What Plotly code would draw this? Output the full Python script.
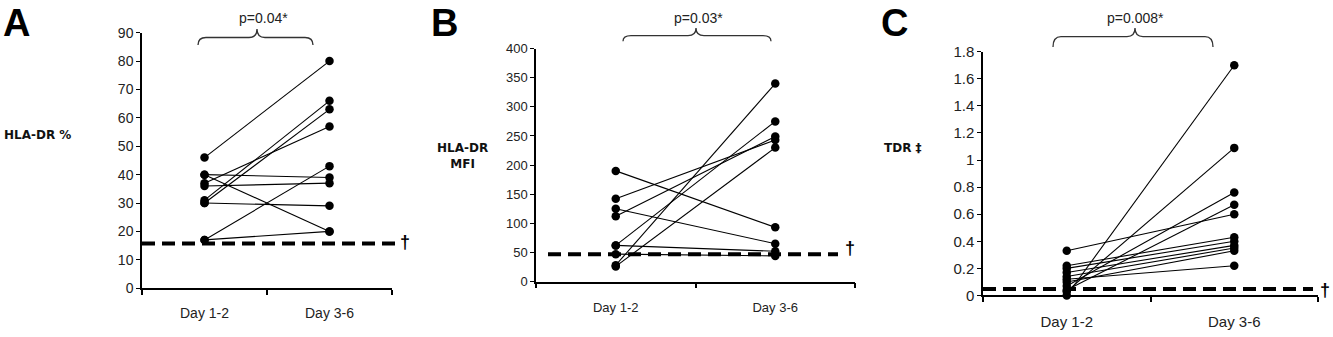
import plotly.graph_objects as go

W, H = 1333, 337

# ---------------- data ----------------
categories = ["Day 1-2", "Day 3-6"]

a_day12 = [46, 40, 40, 37, 36, 31, 30, 30, 17, 17]
a_day36 = [80, 39, 20, 57, 37, 66, 63, 29, 43, 20]
a_threshold = 15.7
a_ticks = [0, 10, 20, 30, 40, 50, 60, 70, 80, 90]
a_ticktext = ["0", "10", "20", "30", "40", "50", "60", "70", "80", "90"]

b_day12 = [190, 142, 125, 112, 62, 62, 47, 28, 26]
b_day36 = [93, 243, 65, 249, 275, 52, 44, 340, 230]
b_threshold = 47
b_ticks = [0, 50, 100, 150, 200, 250, 300, 350, 400]
b_ticktext = ["0", "50", "100", "150", "200", "250", "300", "350", "400"]

c_day12 = [0.33, 0.00, 0.03, 0.07, 0.04, 0.22, 0.20, 0.17, 0.14, 0.10, 0.12]
c_day36 = [0.60, 1.70, 1.09, 0.76, 0.67, 0.43, 0.40, 0.37, 0.35, 0.33, 0.22]
c_threshold = 0.047
c_ticks = [0, 0.2, 0.4, 0.6, 0.8, 1.0, 1.2, 1.4, 1.6, 1.8]
c_ticktext = ["0", "0.2", "0.4", "0.6", "0.8", "1", "1.2", "1.4", "1.6", "1.8"]

panel_letters = ["A", "B", "C"]
y_titles = ["HLA-DR %", "HLA-DR<br>MFI", "TDR \u2021"]
p_texts = ["p=0.04*", "p=0.03*", "p=0.008*"]

# ---------------- layout geometry (pixels) ----------------
panels = [
    dict(d12=a_day12, d36=a_day36, thr=a_threshold, ticks=a_ticks, tt=a_ticktext,
         x0=142, x1=392, ybot=294, ytop=25, dash=(142, 398), dag=(405, 245),
         fs=14, xstand=11, ytitle=(37, 133), brace=(198, 257, 313, 38, 30, 21), ptext=(263, 9),
         letter=(1, -9)),
    dict(d12=b_day12, d36=b_day36, thr=b_threshold, ticks=b_ticks, tt=b_ticktext,
         x0=536, x1=855, ybot=287, ytop=41.7, dash=(548, 838), dag=(850, 252),
         fs=13, xstand=13, ytitle=(462, 155), brace=(623, 696, 771, 34, 28, 20), ptext=(698, 9),
         letter=(429, -9)),
    dict(d12=c_day12, d36=c_day36, thr=c_threshold, ticks=c_ticks, tt=c_ticktext,
         x0=983, x1=1318, ybot=301.7, ytop=45, dash=(983, 1313), dag=(1325, 296),
         fs=15, xstand=12, ytitle=(903, 146), brace=(1053, 1135, 1213, 40, 29, 20), ptext=(1135, 9),
         letter=(879, -9)),
]


def px(xp):
    return xp / W


def py(yp):
    return 1 - yp / H


fig = go.Figure()
layout = dict(
    width=W, height=H, margin=dict(l=0, r=0, t=0, b=0),
    paper_bgcolor="white", plot_bgcolor="white", showlegend=False,
    font=dict(family="Arial, Liberation Sans, sans-serif", size=13, color="#222"),
)
shapes = []
annotations = []

for i, p in enumerate(panels):
    sfx = "" if i == 0 else str(i + 1)
    xa, ya = "x" + sfx, "y" + sfx
    ymax = p["ticks"][-1]
    for v1, v2 in zip(p["d12"], p["d36"]):
        fig.add_trace(go.Scatter(
            x=[0.5, 1.5], y=[v1, v2], mode="lines+markers",
            line=dict(color="black", width=1.1),
            marker=dict(color="black", size=8.5),
            cliponaxis=False, xaxis=xa, yaxis=ya, hoverinfo="skip"))
    layout["xaxis" + sfx] = dict(
        domain=[px(p["x0"]), px(p["x1"])], range=[0, 2], anchor=ya,
        showline=True, linecolor="black", linewidth=1.5, showgrid=False, zeroline=False,
        tickvals=[0.5, 1.5], ticktext=categories, ticks="", ticklabelstandoff=p["xstand"],
        tickfont=dict(size=p["fs"], color="#222"),
        minor=dict(tickvals=[0, 1, 2], ticks="outside", ticklen=5, tickcolor="black", tickwidth=1.5),
        fixedrange=True)
    layout["yaxis" + sfx] = dict(
        domain=[py(p["ybot"]), py(p["ytop"])], range=[0, ymax], anchor=xa,
        showline=True, linecolor="black", linewidth=1.5, showgrid=False, zeroline=False,
        tickvals=p["ticks"], ticktext=p["tt"], ticks="outside", ticklen=4,
        tickcolor="black", tickwidth=1.2, tickfont=dict(size=p["fs"], color="#222"),
        fixedrange=True)

    # threshold dashed line, mapped through the axis scale
    yb, yt = py(p["ybot"]), py(p["ytop"])
    thr_paper = yb + p["thr"] / ymax * (yt - yb)
    shapes.append(dict(type="line", xref="paper", yref="paper",
                       x0=px(p["dash"][0]), x1=px(p["dash"][1]), y0=thr_paper, y1=thr_paper,
                       line=dict(color="black", width=4, dash="13px,7px")))
    annotations.append(dict(text="<b>\u2020</b>", xref="paper", yref="paper",
                            x=px(p["dag"][0]), y=py(p["dag"][1]), xanchor="center", yanchor="middle",
                            showarrow=False,
                            font=dict(size=18, family="Liberation Sans", color="black")))

    # curly brace
    x0, xm, x1, yE, yH_, yP = p["brace"]
    r = 8
    pts = [
        f"M {px(x0)},{py(yE)}",
        f"Q {px(x0)},{py(yH_)} {px(x0 + r)},{py(yH_)}",
        f"L {px(xm - r)},{py(yH_)}",
        f"Q {px(xm)},{py(yH_)} {px(xm)},{py(yP)}",
        f"Q {px(xm)},{py(yH_)} {px(xm + r)},{py(yH_)}",
        f"L {px(x1 - r)},{py(yH_)}",
        f"Q {px(x1)},{py(yH_)} {px(x1)},{py(yE)}",
    ]
    shapes.append(dict(type="path", xref="paper", yref="paper", path=" ".join(pts),
                       line=dict(color="#333", width=1.3)))
    annotations.append(dict(text=p_texts[i], xref="paper", yref="paper",
                            x=px(p["ptext"][0]), y=py(p["ptext"][1]), xanchor="center", yanchor="middle",
                            showarrow=False, font=dict(size=14, color="#222")))

    # panel letter
    annotations.append(dict(text="<b>%s</b>" % panel_letters[i], xref="paper", yref="paper",
                            x=px(p["letter"][0]), y=py(p["letter"][1]), xanchor="left", yanchor="top",
                            showarrow=False,
                            font=dict(size=38, family="Liberation Sans", color="black")))
    # y title
    annotations.append(dict(text="<b>%s</b>" % y_titles[i], xref="paper", yref="paper",
                            x=px(p["ytitle"][0]), y=py(p["ytitle"][1]), xanchor="center", yanchor="middle",
                            align="center", showarrow=False,
                            font=dict(size=12, family="DejaVu Sans", color="#111")))

layout["shapes"] = shapes
layout["annotations"] = annotations
fig.update_layout(**layout)
fig.write_html("out.html")
